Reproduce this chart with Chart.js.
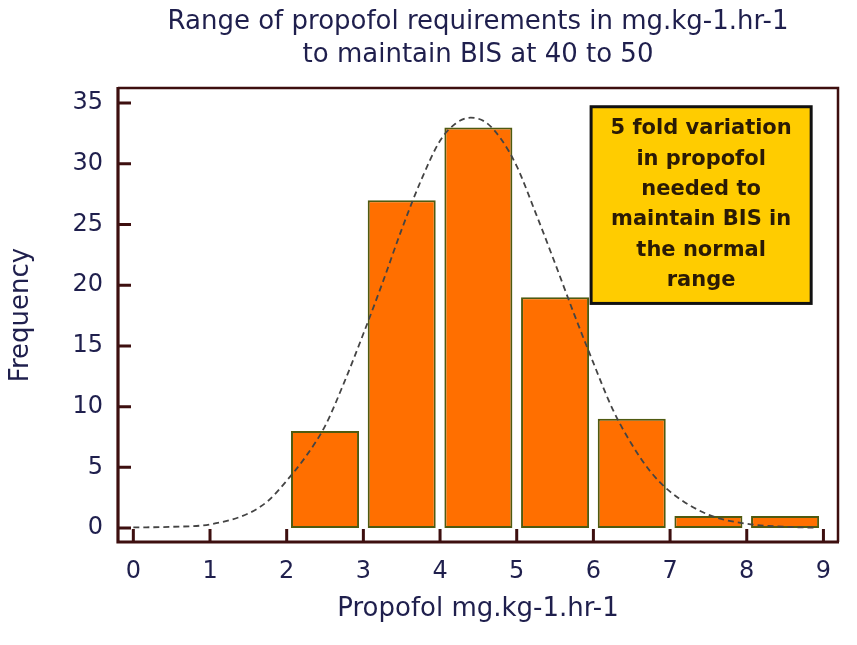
<!DOCTYPE html>
<html><head><meta charset="utf-8">
<script src="https://cdn.jsdelivr.net/npm/chart.js@4.4.1/dist/chart.umd.min.js"></script>
<style>html,body{margin:0;padding:0;background:#fff;}canvas{display:block;}</style>
</head><body>
<canvas id="c" width="857" height="645"></canvas>
<script>
// ---- data ----
const binStarts   = [2, 3, 4, 5, 6, 7, 8];
const frequencies = [8, 27, 33, 19, 9, 1, 1];
const curveX = [0, 0.5, 1, 1.5, 1.75, 2, 2.25, 2.5, 2.75, 3, 3.25, 3.5, 3.75, 4, 4.2, 4.4, 4.6, 4.8, 5, 5.25, 5.5, 5.75, 6, 6.25, 6.5, 6.75, 7, 7.5, 8, 8.5, 8.9];
const curveY = [0.05, 0.1, 0.3, 1.2, 2.2, 3.9, 5.9, 8.4, 12.0, 16.0, 20.2, 24.6, 28.6, 31.9, 33.3, 33.8, 33.4, 32.0, 29.8, 25.9, 21.8, 17.6, 13.6, 9.8, 6.9, 4.6, 3.0, 1.1, 0.35, 0.1, 0.03];
const xTicks = [0, 1, 2, 3, 4, 5, 6, 7, 8, 9];
const yTicks = [0, 5, 10, 15, 20, 25, 30, 35];
const titleLines = ['Range of propofol requirements in mg.kg-1.hr-1', 'to maintain BIS at 40 to 50'];
const xTitle = 'Propofol mg.kg-1.hr-1';
const yTitle = 'Frequency';
const noteLines = ['5 fold variation', 'in propofol', 'needed to', 'maintain BIS in', 'the normal', 'range'];

// ---- styling / placement ----
const NAVY = '#1f1f4d';
const AXIS = '#3d0f0f';
const FONT = 'DejaVu Sans';
const NOTE = {x0: 5.97, x1: 8.84, y0: 34.7, y1: 18.5};

const decor = {
  id: 'decor',
  afterDraw(chart) {
    const {ctx, chartArea: a, scales: {x, y}} = chart;
    ctx.save();
    // note box
    const bx0 = x.getPixelForValue(NOTE.x0), bx1 = x.getPixelForValue(NOTE.x1);
    const by0 = y.getPixelForValue(NOTE.y0), by1 = y.getPixelForValue(NOTE.y1);
    ctx.fillStyle = '#ffcc00';
    ctx.fillRect(bx0, by0, bx1 - bx0, by1 - by0);
    ctx.lineWidth = 3;
    ctx.strokeStyle = '#111';
    ctx.strokeRect(bx0, by0, bx1 - bx0, by1 - by0);
    ctx.fillStyle = '#2a1a05';
    ctx.font = 'bold 21px "' + FONT + '"';
    ctx.textAlign = 'center';
    ctx.textBaseline = 'middle';
    const cx = (bx0 + bx1) / 2;
    noteLines.forEach((t, i) => ctx.fillText(t, cx, by0 + 22 + i * 30.4));

    // frame
    ctx.strokeStyle = AXIS;
    ctx.lineCap = 'butt';
    ctx.lineWidth = 2.5;
    ctx.beginPath();
    ctx.moveTo(a.left, a.top); ctx.lineTo(a.right, a.top); ctx.lineTo(a.right, a.bottom);
    ctx.stroke();
    ctx.lineWidth = 3.2;
    ctx.beginPath();
    ctx.moveTo(a.left, a.top - 1); ctx.lineTo(a.left, a.bottom); ctx.lineTo(a.right + 1, a.bottom);
    ctx.stroke();
    // inward ticks
    ctx.lineWidth = 3;
    ctx.beginPath();
    yTicks.forEach(v => { const py = y.getPixelForValue(v); ctx.moveTo(a.left, py); ctx.lineTo(a.left + 13, py); });
    xTicks.forEach(v => { const px = x.getPixelForValue(v); ctx.moveTo(px, a.bottom); ctx.lineTo(px, a.bottom - 13); });
    ctx.stroke();
    ctx.restore();
  }
};

new Chart(document.getElementById('c'), {
  type: 'bar',
  data: {
    datasets: [
      {
        type: 'line',
        data: curveX.map((v, i) => ({x: v, y: curveY[i]})),
        borderColor: '#444444',
        borderWidth: 1.8,
        borderDash: [6, 4],
        pointRadius: 0,
        fill: false,
        cubicInterpolationMode: 'monotone',
        order: 0
      },
      {
        type: 'bar',
        data: binStarts.map((v, i) => ({x: v + 0.5, y: frequencies[i]})),
        backgroundColor: '#ff6f00',
        borderColor: '#4f5a10',
        borderWidth: 2,
        borderSkipped: false,
        barPercentage: 0.887,
        categoryPercentage: 1,
        order: 1
      }
    ]
  },
  options: {
    responsive: false,
    animation: false,
    devicePixelRatio: 1,
    layout: {padding: {left: 0, right: 19, top: 0, bottom: 0}},
    plugins: {
      legend: {display: false},
      tooltip: {enabled: false},
      title: {
        display: true,
        text: titleLines,
        fullSize: false,
        color: NAVY,
        font: {family: FONT, size: 26, weight: 'normal', lineHeight: 1.27},
        padding: {top: 5.5, bottom: 16.5}
      }
    },
    scales: {
      x: {
        type: 'linear',
        min: -0.2,
        max: 9.19,
        offset: false,
        grid: {display: false, drawTicks: false},
        border: {display: false},
        ticks: {color: NAVY, font: {family: FONT, size: 24}, padding: 15.6},
        afterBuildTicks: s => { s.ticks = xTicks.map(v => ({value: v})); },
        afterFit: s => { s.height = 103; },
        title: {display: true, text: xTitle, color: NAVY, font: {family: FONT, size: 26}, padding: {top: 20.4, bottom: 20.4}}
      },
      y: {
        type: 'linear',
        min: -1.15,
        max: 36.24,
        grid: {display: false, drawTicks: false},
        border: {display: false},
        ticks: {color: NAVY, font: {family: FONT, size: 24}, padding: 15},
        afterBuildTicks: s => { s.ticks = yTicks.map(v => ({value: v})); },
        afterFit: s => { s.width = 118; },
        title: {display: true, text: yTitle, color: NAVY, font: {family: FONT, size: 26}, padding: {top: 5.4, bottom: 5.4}}
      }
    }
  },
  plugins: [decor]
});
</script>
</body></html>
